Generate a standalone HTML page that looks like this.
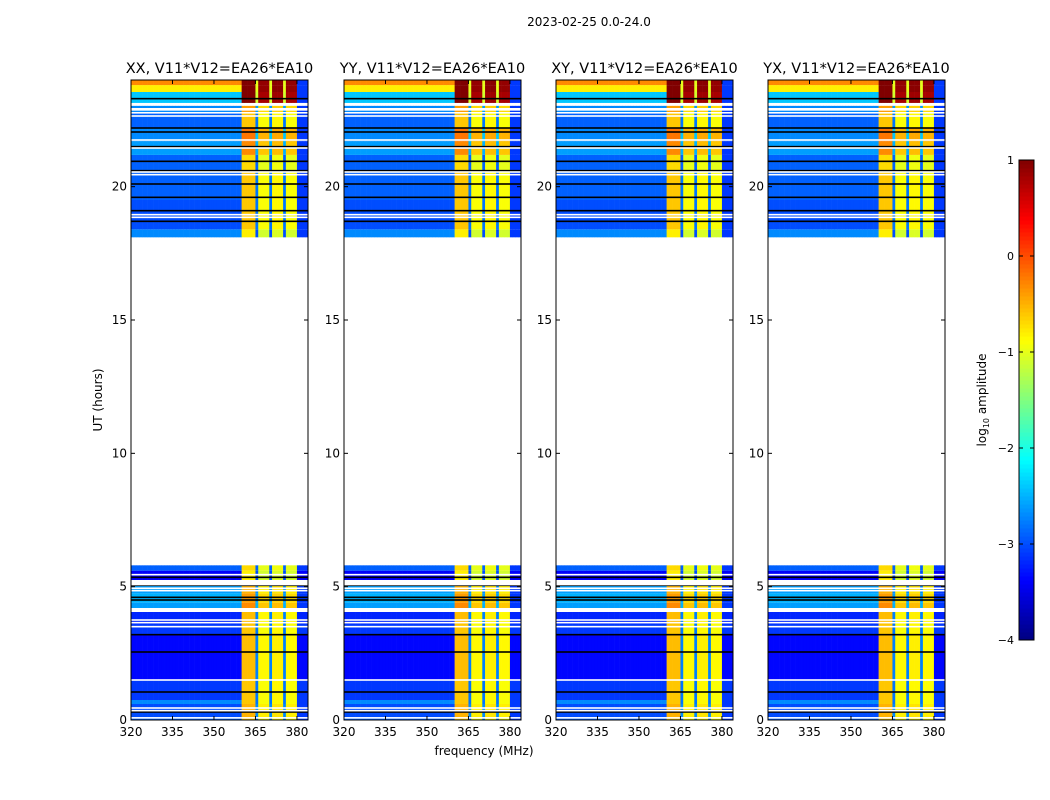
<!DOCTYPE html>
<html><head><meta charset="utf-8"><style>
html,body{margin:0;padding:0;background:#fff;width:1050px;height:800px;overflow:hidden}
svg{display:block;font-family:"DejaVu Sans","Liberation Sans",sans-serif}
</style></head><body>
<svg id="fig" width="1050" height="800" viewBox="0 0 1050 800">
<text x="589" y="26" font-size="12" text-anchor="middle">2023-02-25 0.0-24.0</text>
<text x="484" y="755" font-size="12" text-anchor="middle">frequency (MHz)</text>
<text x="0" y="0" font-size="12" text-anchor="middle" transform="translate(102,400) rotate(-90)">UT (hours)</text>
<text x="0" y="0" font-size="12" text-anchor="middle" transform="translate(986,400) rotate(-90)">log<tspan font-size="8" dy="3">10</tspan><tspan dy="-3"> amplitude</tspan></text>
<g id="panels"></g>
<g id="cbar"></g>
</svg>
<script>
// ---- data ----
const panelTitles = ["XX, V11*V12=EA26*EA10","YY, V11*V12=EA26*EA10","XY, V11*V12=EA26*EA10","YX, V11*V12=EA26*EA10"];
const xTicks = [320,335,350,365,380];
const yTicks = [0,5,10,15,20];
const cbarTicks = [1,0,-1,-2,-3,-4];
// time segments: start hour, end hour
const segStart = [0.0,0.1,0.6,0.75,1.5,3.2,3.6,4.05,4.4,4.75,5.25,5.6, 18.1,18.4,19.5,20.6,21.19,21.7,22.2,22.76,23.14,23.55,23.81];
const segEnd   = [0.1,0.6,0.75,1.5,3.2,3.6,4.05,4.4,4.75,5.05,5.6,5.8, 18.4,19.5,20.6,21.19,21.7,22.2,22.76,23.03,23.55,23.81,24.0];
// background log amplitude (320-360 MHz) per segment
const segBg    = [-2.9,-3.0,-2.7,-3.1,-3.35,-3.1,-3.2,-2.6,-2.5,-2.6,-3.4,-2.9, -2.7,-3.0,-2.9,-2.9,-2.6,-2.7,-2.9,-2.7,-2.4,-0.8,-0.3];
// bright band log amplitude (360-380 MHz) per segment
const segBand  = [-0.9,-0.8,-0.9,-0.9,-0.85,-0.9,-0.85,-0.6,-0.7,-0.8,-1.1,-1.0, -1.1,-0.9,-0.9,-1.0,-0.6,-0.5,-0.9,-0.7,0.8,0.9,0.9];
// per-channel (1 MHz) category: 0=background,1..4 band,5=gap,6=upper edge
const chanFreq = [];
for (let f=320; f<384; f++) chanFreq.push(f);
const chanKind = [0,0,0,0,0,0,0,0,0,0, 0,0,0,0,0,0,0,0,0,0, 0,0,0,0,0,0,0,0,0,0, 0,0,0,0,0,0,0,0,0,0,
  1,1,1,1,1,5,2,2,2,2,5,3,3,3,3,5,4,4,4,4,6,6,6,6];
const bandOffset = [0,0.3,0,0.05,0,-1.9,-2.6]; // indexed by kind (for band kinds)
// flagged rows (hours)
const blackLines = [0.3,1.05,2.55,3.2,4.5,4.6,5.05,5.35,18.7,19.1,19.6,20.1,20.6,20.95,21.5,22.05,22.2,23.3];
const whiteLines = [0.08,0.35,0.45,1.5,3.5,3.65,3.75,4.85,4.94,5.45,18.85,18.95,20.45,20.55,21.45,21.75,22.65,22.77];
const whiteBands = [[4.05,4.2],[5.05,5.25],[22.85,22.95]];

// ---- helpers ----
function jet(v){ // v in [-4,1]
  let t=(v+4)/5; t=Math.max(0,Math.min(1,t));
  const c=x=>Math.max(0,Math.min(1,x));
  const r=c(1.5-Math.abs(4*t-3)), g=c(1.5-Math.abs(4*t-2)), b=c(1.5-Math.abs(4*t-1));
  return `rgb(${Math.round(r*255)},${Math.round(g*255)},${Math.round(b*255)})`;
}
const NS="http://www.w3.org/2000/svg";
function el(tag,attrs,parent){const e=document.createElementNS(NS,tag);for(const k in attrs)e.setAttribute(k,attrs[k]);parent.appendChild(e);return e;}
const panelX=[131,344,556,768], PW=177, PT=80, PB=720;
const xScale=(x0,f)=>x0+(f-320)/64*PW;
const yScale=h=>PB-h/24*(PB-PT);

const panels=document.getElementById('panels');
panelX.forEach((x0,pi)=>{
  const g=el('g',{},panels);
  
  
  const hm=el('g',{},g);
  
  
  for(let s=0;s<segStart.length;s++){
    const y1=yScale(segEnd[s]), y2=yScale(segStart[s]);
    for(let c=0;c<chanFreq.length;c++){
      const k=chanKind[c];
      let v = k===0 ? segBg[s] : (k===6 ? Math.min(segBg[s],-3.1) : segBand[s]+bandOffset[k]);
      if(k===5) v=Math.max(-3.2,segBand[s]+bandOffset[k]);
      const xa=xScale(x0,chanFreq[c]), xb=xScale(x0,chanFreq[c]+1);
      const r=el('rect',{x:xa.toFixed(2),y:y1.toFixed(2),width:(xb-xa+0.3).toFixed(2),height:(y2-y1).toFixed(2),fill:jet(v)},hm);
      
      
    }
  }
  blackLines.forEach(h=>{const l=el('rect',{x:x0,y:yScale(h)-0.8,width:PW,height:1.6,fill:'#000'},hm);
    });
  whiteLines.forEach(h=>{const l=el('rect',{x:x0,y:yScale(h)-0.8,width:PW,height:1.6,fill:'#fff'},hm);
    });
  whiteBands.forEach(b=>{const l=el('rect',{x:x0,y:yScale(b[1]),width:PW,height:yScale(b[0])-yScale(b[1]),fill:'#fff'},hm);
    });
  const fr=el('rect',{x:x0,y:PT,width:PW,height:PB-PT,fill:'none',stroke:'#000','stroke-width':1},g);
  
  const t=el('text',{x:x0+PW/2,y:73,'font-size':14.5,'text-anchor':'middle'},g);
  t.textContent=panelTitles[pi];
  
  xTicks.forEach(f=>{const x=xScale(x0,f);
    el('line',{x1:x,x2:x,y1:PB,y2:PB-4,stroke:'#000'},g);el('line',{x1:x,x2:x,y1:PT,y2:PT+4,stroke:'#000'},g);
    const tl=el('text',{x:x,y:PB+16,'font-size':12,'text-anchor':'middle'},g);tl.textContent=f;
    });
  yTicks.forEach(h=>{const y=yScale(h);
    el('line',{x1:x0,x2:x0+4,y1:y,y2:y,stroke:'#000'},g);el('line',{x1:x0+PW,x2:x0+PW-4,y1:y,y2:y,stroke:'#000'},g);
    const tl=el('text',{x:x0-4,y:y+4,'font-size':12,'text-anchor':'end'},g);tl.textContent=h;
    });
});

// colorbar
const cb=document.getElementById('cbar');


const CX=1019,CW=15,CT=160,CB=640;
for(let i=0;i<120;i++){const v=-4+5*i/120;
  el('rect',{x:CX,y:CB-(i+1)*(CB-CT)/120,width:CW,height:(CB-CT)/120+0.5,fill:jet(v+5/240)},cb);}
el('rect',{x:CX,y:CT,width:CW,height:CB-CT,fill:'none',stroke:'#000'},cb);
cbarTicks.forEach(v=>{const y=CB-(v+4)/5*(CB-CT);
  el('line',{x1:CX,x2:CX+4,y1:y,y2:y,stroke:'#000'},cb);el('line',{x1:CX+CW,x2:CX+CW-4,y1:y,y2:y,stroke:'#000'},cb);
  const tl=el('text',{x:CX-5,y:y+4,'font-size':11,'text-anchor':'end'},cb);tl.textContent=(v<0?'\u2212'+(-v):v);
  });
</script>
</body></html>
